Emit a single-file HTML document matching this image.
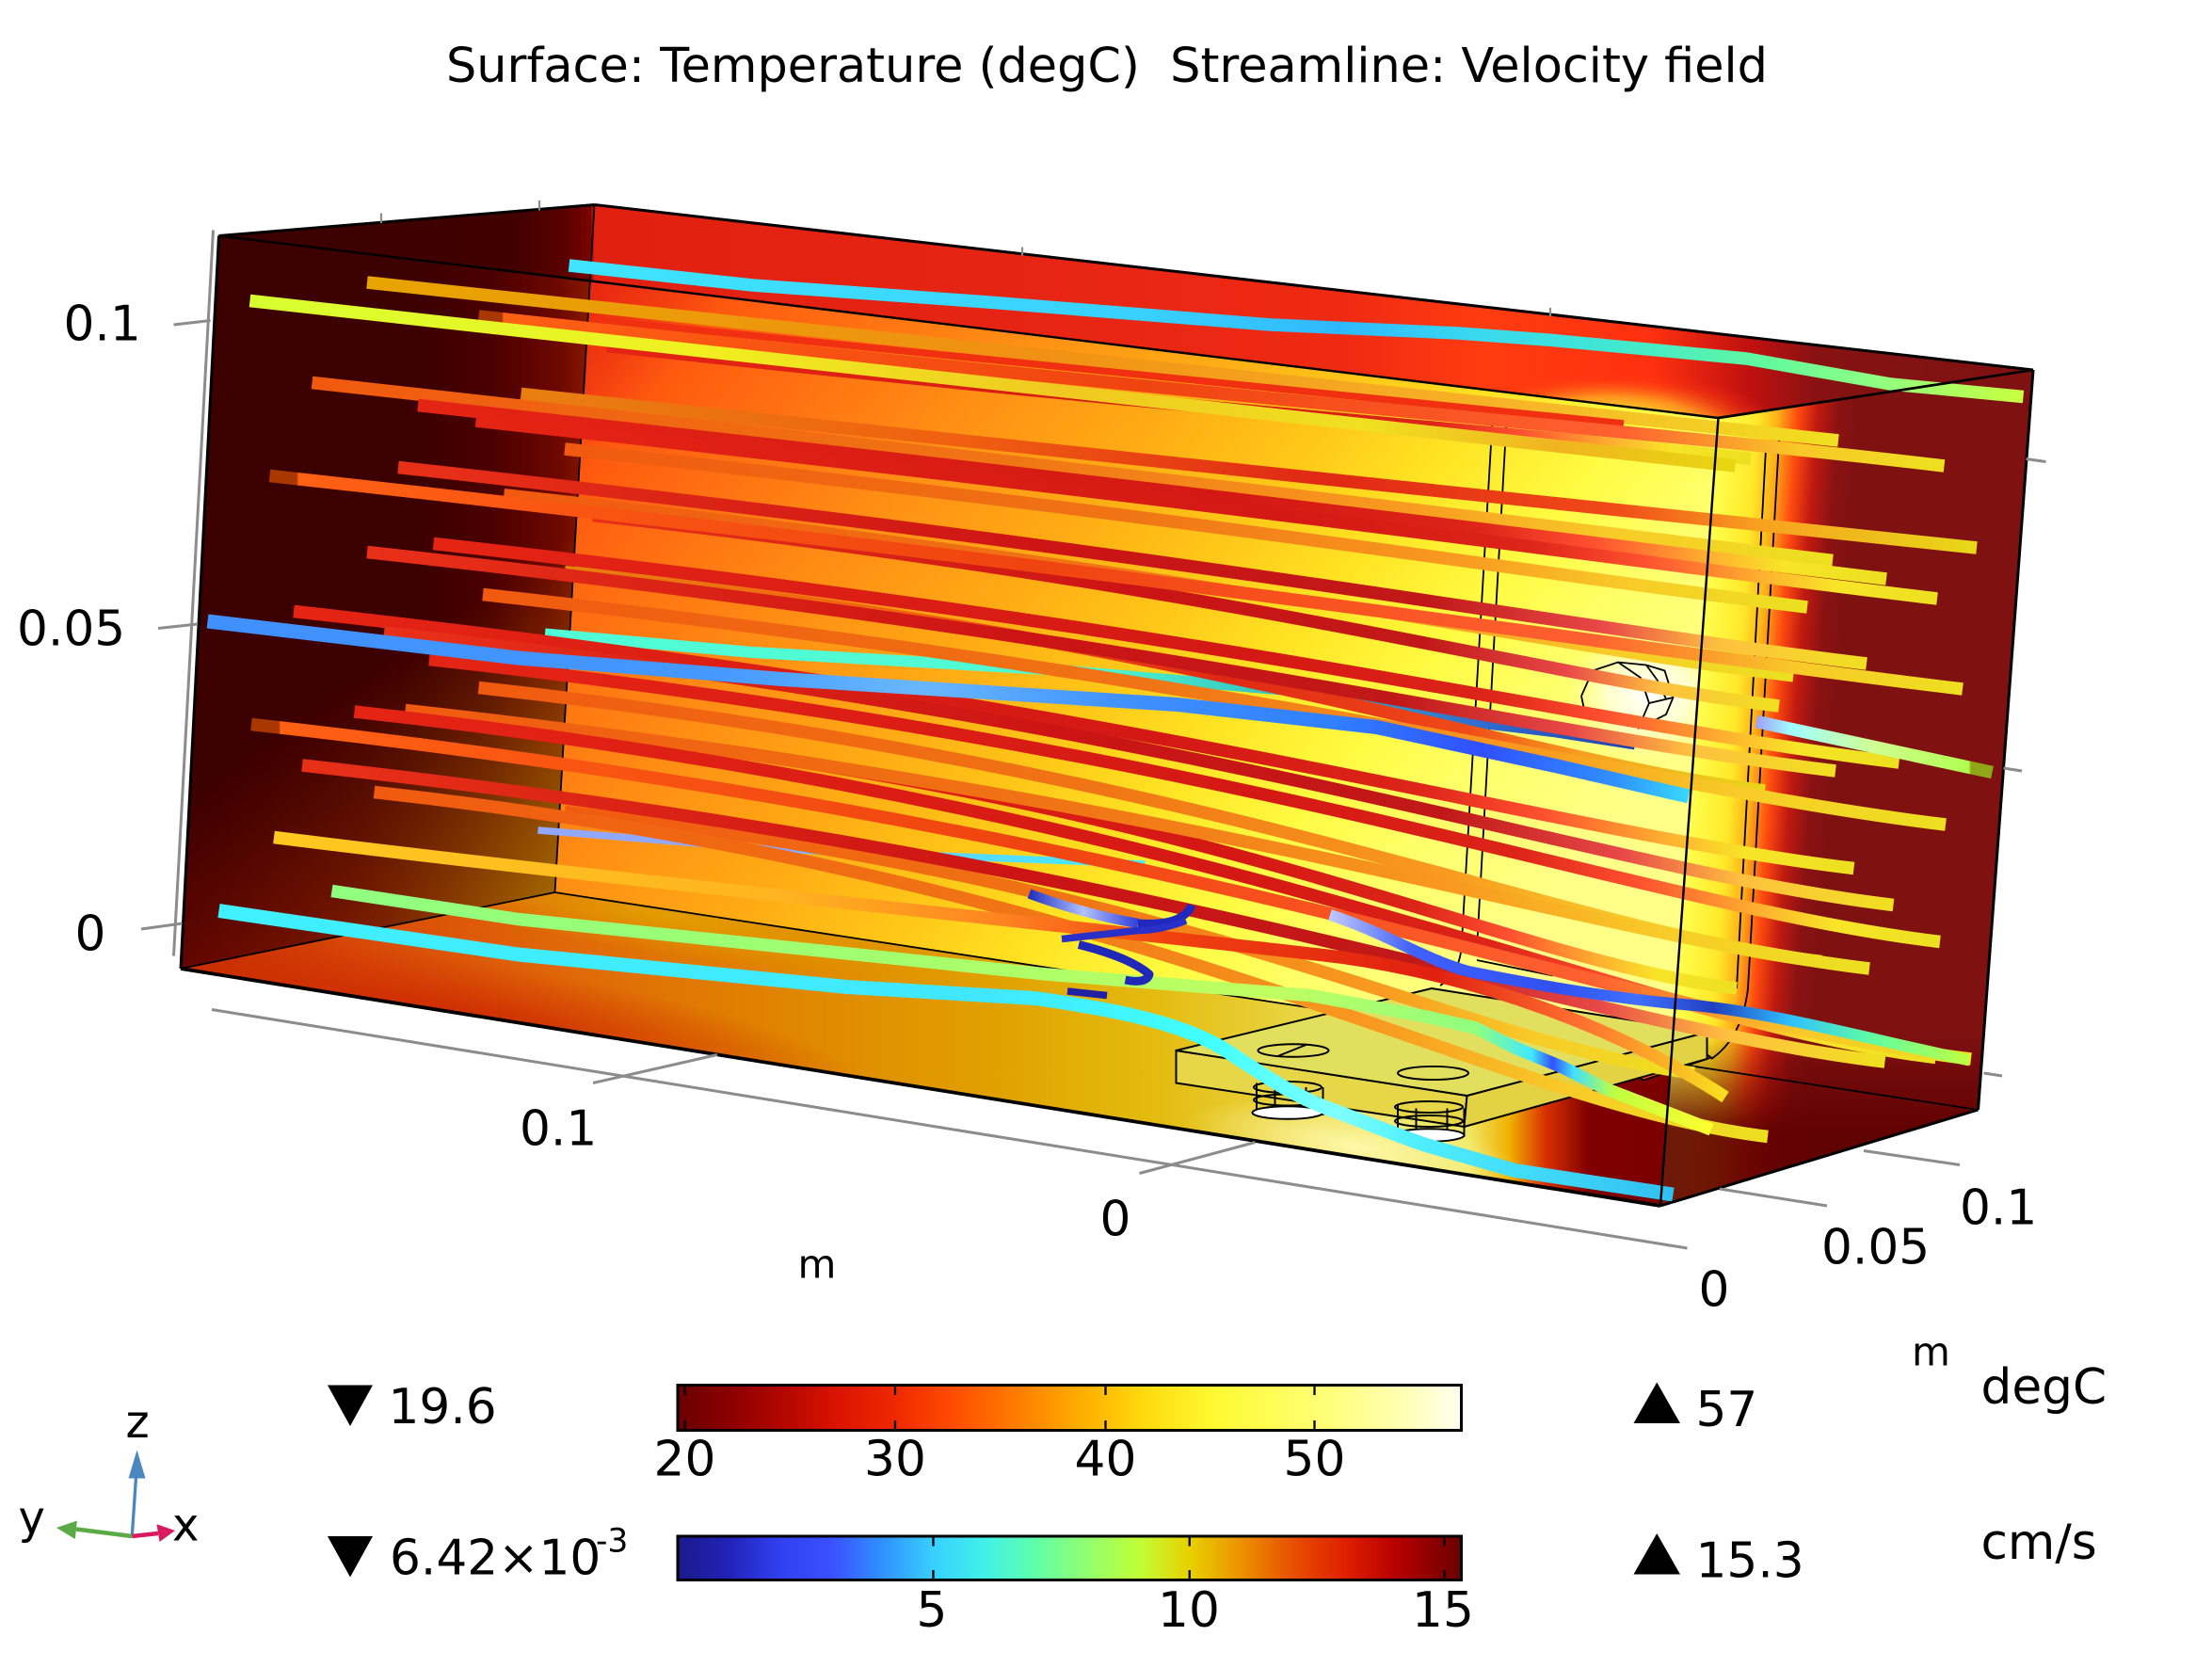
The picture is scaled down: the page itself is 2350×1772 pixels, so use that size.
<!DOCTYPE html>
<html><head><meta charset="utf-8"><style>html,body{margin:0;padding:0;background:#fff}svg{display:block}</style></head>
<body>
<svg xmlns="http://www.w3.org/2000/svg" width="2350" height="1772" viewBox="0 0 1566.667 1181.333" font-family="'DejaVu Sans','Liberation Sans',sans-serif">
<defs>
  <linearGradient id="gCeil" gradientUnits="userSpaceOnUse" x1="155" y1="0" x2="1440" y2="0">
    <stop offset="0" stop-color="#3a0000"/><stop offset="0.16" stop-color="#400000"/>
    <stop offset="0.19" stop-color="#5a0000"/><stop offset="0.205" stop-color="#7a0400"/>
    <stop offset="0.207" stop-color="#e02010"/><stop offset="0.424" stop-color="#e62414"/>
    <stop offset="0.619" stop-color="#ee2a12"/><stop offset="0.696" stop-color="#ff3c10"/>
    <stop offset="0.79" stop-color="#ff3010"/><stop offset="0.844" stop-color="#c01010"/>
    <stop offset="0.883" stop-color="#861212"/><stop offset="1" stop-color="#7f1111"/>
  </linearGradient>
  <radialGradient id="rGlow">
    <stop offset="0" stop-color="#fff850"/><stop offset="0.35" stop-color="#ffe030"/>
    <stop offset="0.6" stop-color="#ffa020" stop-opacity="0.85"/><stop offset="0.85" stop-color="#ff4010" stop-opacity="0.35"/>
    <stop offset="1" stop-color="#ff3010" stop-opacity="0"/>
  </radialGradient>
  <linearGradient id="gBack" gradientUnits="userSpaceOnUse" x1="374" y1="261.6" x2="988.4" y2="773.6">
    <stop offset="0" stop-color="#e82812"/><stop offset="0.05" stop-color="#f23c10"/>
    <stop offset="0.1" stop-color="#ff5a10"/><stop offset="0.2" stop-color="#ff7212"/>
    <stop offset="0.325" stop-color="#ff9014"/><stop offset="0.45" stop-color="#ffaa14"/>
    <stop offset="0.575" stop-color="#ffc818"/><stop offset="0.675" stop-color="#ffe424"/>
    <stop offset="0.775" stop-color="#fffa40"/><stop offset="0.875" stop-color="#ffff6a"/>
    <stop offset="1" stop-color="#ffff88"/>
  </linearGradient>
  <radialGradient id="rWhite">
    <stop offset="0" stop-color="#ffffff"/><stop offset="0.5" stop-color="#ffffe0" stop-opacity="0.8"/>
    <stop offset="1" stop-color="#ffffa0" stop-opacity="0"/>
  </radialGradient>
  <linearGradient id="gLW1" gradientUnits="userSpaceOnUse" x1="300" y1="0" x2="420" y2="0">
    <stop offset="0" stop-color="#3d0000"/><stop offset="0.4" stop-color="#4a0000"/>
    <stop offset="0.8" stop-color="#6e0800"/><stop offset="1" stop-color="#8a1a00"/>
  </linearGradient>
  <linearGradient id="gLW2" gradientUnits="userSpaceOnUse" x1="128" y1="0" x2="400" y2="0">
    <stop offset="0" stop-color="#8a0c00"/><stop offset="0.45" stop-color="#8c2400"/>
    <stop offset="0.8" stop-color="#985000"/><stop offset="1" stop-color="#a06800"/>
  </linearGradient>
  <linearGradient id="mLW" gradientUnits="userSpaceOnUse" x1="400" y1="380" x2="514" y2="544">
    <stop offset="0" stop-color="#fff" stop-opacity="0"/><stop offset="1" stop-color="#fff" stop-opacity="1"/>
  </linearGradient>
  <mask id="mkLW" maskUnits="userSpaceOnUse" x="0" y="0" width="1600" height="1200">
    <rect x="0" y="0" width="1600" height="1200" fill="url(#mLW)"/>
  </mask>
  <linearGradient id="gFloor" gradientUnits="userSpaceOnUse" x1="128" y1="0" x2="1400" y2="0">
    <stop offset="0" stop-color="#c43000"/><stop offset="0.096" stop-color="#d84808"/>
    <stop offset="0.214" stop-color="#e06808"/><stop offset="0.332" stop-color="#e08400"/>
    <stop offset="0.45" stop-color="#e0a000"/><stop offset="0.544" stop-color="#e4bc10"/>
    <stop offset="0.607" stop-color="#e8d038"/><stop offset="0.67" stop-color="#ece466"/>
    <stop offset="0.717" stop-color="#f0e864"/><stop offset="0.74" stop-color="#f0b000"/>
    <stop offset="0.76" stop-color="#d83000"/><stop offset="0.784" stop-color="#800000"/>
    <stop offset="1" stop-color="#660000"/>
  </linearGradient>
  <radialGradient id="rRed"><stop offset="0" stop-color="#cc2600" stop-opacity="0.95"/><stop offset="1" stop-color="#cc2600" stop-opacity="0"/></radialGradient>
  <radialGradient id="rOchre"><stop offset="0" stop-color="#e2a200" stop-opacity="0.9"/><stop offset="1" stop-color="#e2a200" stop-opacity="0"/></radialGradient>
  <radialGradient id="rPale"><stop offset="0" stop-color="#fff8a8" stop-opacity="1"/><stop offset="1" stop-color="#fff8a8" stop-opacity="0"/></radialGradient>
  <linearGradient id="gRW" gradientUnits="userSpaceOnUse" x1="1196.5" y1="575" x2="1296.2" y2="582.3">
    <stop offset="0" stop-color="#ffff50"/><stop offset="0.28" stop-color="#ffe828"/>
    <stop offset="0.42" stop-color="#ffb018"/><stop offset="0.56" stop-color="#ff4a10"/>
    <stop offset="0.7" stop-color="#c01a10"/><stop offset="0.85" stop-color="#8a1212"/>
    <stop offset="1" stop-color="#7f1111"/>
  </linearGradient>
  <linearGradient id="gRWb" gradientUnits="userSpaceOnUse" x1="0" y1="730" x2="0" y2="800">
    <stop offset="0" stop-color="#5e0000" stop-opacity="0"/><stop offset="1" stop-color="#5e0000" stop-opacity="0.9"/>
  </linearGradient>
  <clipPath id="cpF"><polygon points="128,686 393,632 1401,786 1176,854"/></clipPath>
  <clipPath id="cpC"><polygon points="155,167 421,145 1440,262 1217,296"/></clipPath>
  <clipPath id="cpB"><polygon points="421,145 1440,262 1401,786 393,632"/></clipPath>

  <linearGradient id="gR"><stop offset="0" stop-color="#e42414"/><stop offset="0.55" stop-color="#d41814"/><stop offset="0.72" stop-color="#dc2418"/><stop offset="0.8" stop-color="#ff5030"/><stop offset="0.88" stop-color="#ffb030"/><stop offset="0.93" stop-color="#f8e428"/><stop offset="1" stop-color="#ece020"/></linearGradient>
  <linearGradient id="gR2"><stop offset="0" stop-color="#e83018"/><stop offset="0.45" stop-color="#cc1414"/><stop offset="0.7" stop-color="#c01818"/><stop offset="0.82" stop-color="#e84848"/><stop offset="0.9" stop-color="#ffc040"/><stop offset="1" stop-color="#f0e020"/></linearGradient>
  <linearGradient id="gO"><stop offset="0" stop-color="#f05a10"/><stop offset="0.45" stop-color="#f07414"/><stop offset="0.72" stop-color="#f89a20"/><stop offset="0.86" stop-color="#f8cc28"/><stop offset="1" stop-color="#ece020"/></linearGradient>
  <linearGradient id="gOR"><stop offset="0" stop-color="#e88010"/><stop offset="0.3" stop-color="#f06010"/><stop offset="0.55" stop-color="#e02814"/><stop offset="0.75" stop-color="#f04a18"/><stop offset="0.85" stop-color="#f8a020"/><stop offset="1" stop-color="#e8d818"/></linearGradient>
  <linearGradient id="gBr"><stop offset="0" stop-color="#a83800"/><stop offset="0.016" stop-color="#a83800"/><stop offset="0.017" stop-color="#ff6014"/><stop offset="0.45" stop-color="#f04410"/><stop offset="0.78" stop-color="#ff6030"/><stop offset="0.9" stop-color="#f8c828"/><stop offset="1" stop-color="#eee020"/></linearGradient>
  <linearGradient id="gY"><stop offset="0" stop-color="#e8a400"/><stop offset="0.45" stop-color="#f09014"/><stop offset="0.78" stop-color="#f8b428"/><stop offset="1" stop-color="#f0e020"/></linearGradient>
  <linearGradient id="gYG"><stop offset="0" stop-color="#d8ff30"/><stop offset="0.3" stop-color="#f0f020"/><stop offset="0.55" stop-color="#f0c820"/><stop offset="0.75" stop-color="#f0e020"/><stop offset="0.88" stop-color="#f0b420"/><stop offset="1" stop-color="#e8d810"/></linearGradient>
  <linearGradient id="g26"><stop offset="0" stop-color="#ffc820"/><stop offset="0.35" stop-color="#ffb420"/><stop offset="0.5" stop-color="#ff8420"/><stop offset="0.62" stop-color="#f04010"/><stop offset="0.8" stop-color="#e02010"/><stop offset="0.9" stop-color="#ff7030"/><stop offset="1" stop-color="#f8e020"/></linearGradient>
  <linearGradient id="gC1"><stop offset="0" stop-color="#40e4ff"/><stop offset="0.4" stop-color="#38d0ff"/><stop offset="0.53" stop-color="#30b8ff"/><stop offset="0.62" stop-color="#38d8f0"/><stop offset="0.72" stop-color="#40e8d0"/><stop offset="0.82" stop-color="#60f8a0"/><stop offset="0.9" stop-color="#90ff80"/><stop offset="1" stop-color="#c8ff40"/></linearGradient>
  <linearGradient id="gB"><stop offset="0" stop-color="#4090ff"/><stop offset="0.34" stop-color="#4498ff"/><stop offset="0.48" stop-color="#68b8ff"/><stop offset="0.62" stop-color="#4090ff"/><stop offset="0.76" stop-color="#3080ff"/><stop offset="0.86" stop-color="#3050ff"/><stop offset="0.95" stop-color="#3090ff"/><stop offset="1" stop-color="#38d8ff"/></linearGradient>
  <linearGradient id="gT"><stop offset="0" stop-color="#50ffd8"/><stop offset="0.5" stop-color="#50f8d0"/><stop offset="0.68" stop-color="#30c0c0"/><stop offset="0.85" stop-color="#3070d0"/><stop offset="1" stop-color="#2040b0"/></linearGradient>
  <linearGradient id="gL"><stop offset="0" stop-color="#c0c8ff"/><stop offset="0.13" stop-color="#4060ff"/><stop offset="0.35" stop-color="#3050f0"/><stop offset="0.48" stop-color="#4070ff"/><stop offset="0.6" stop-color="#2040c0"/><stop offset="0.72" stop-color="#30c0ff"/><stop offset="0.85" stop-color="#60ffa0"/><stop offset="1" stop-color="#c0ff40"/></linearGradient>
  <linearGradient id="gG"><stop offset="0" stop-color="#90ff80"/><stop offset="0.37" stop-color="#a0ff70"/><stop offset="0.68" stop-color="#c0ff60"/><stop offset="0.83" stop-color="#90ff80"/><stop offset="0.87" stop-color="#40e8ff"/><stop offset="0.885" stop-color="#3050ff"/><stop offset="0.9" stop-color="#40e0ff"/><stop offset="0.93" stop-color="#c0ff40"/><stop offset="1" stop-color="#ffff30"/></linearGradient>
  <linearGradient id="gC2"><stop offset="0" stop-color="#40f0ff"/><stop offset="0.53" stop-color="#40e8ff"/><stop offset="0.68" stop-color="#40ffff"/><stop offset="0.77" stop-color="#80ffff"/><stop offset="0.82" stop-color="#50f0ff"/><stop offset="1" stop-color="#30c0f0"/></linearGradient>
  <linearGradient id="gLC"><stop offset="0" stop-color="#a0a0ff"/><stop offset="0.15" stop-color="#a0ffff"/><stop offset="0.5" stop-color="#d0ff90"/><stop offset="0.9" stop-color="#b0ff50"/><stop offset="0.91" stop-color="#90a818"/><stop offset="1" stop-color="#90a818"/></linearGradient>
  <linearGradient id="gTh"><stop offset="0" stop-color="#90a8ff"/><stop offset="0.4" stop-color="#90a8ff"/><stop offset="0.6" stop-color="#60d0ff"/><stop offset="1" stop-color="#40f0ff"/></linearGradient>
  <linearGradient id="gHx"><stop offset="0" stop-color="#2030c0"/><stop offset="0.5" stop-color="#b0c0ff"/><stop offset="1" stop-color="#3040d8"/></linearGradient>

  <linearGradient id="cbT">
    <stop offset="0" stop-color="#6a0000"/><stop offset="0.064" stop-color="#8a0000"/>
    <stop offset="0.144" stop-color="#b80800"/><stop offset="0.198" stop-color="#d81200"/>
    <stop offset="0.278" stop-color="#f02800"/><stop offset="0.358" stop-color="#ff5000"/>
    <stop offset="0.439" stop-color="#ff8000"/><stop offset="0.519" stop-color="#ffb000"/>
    <stop offset="0.6" stop-color="#ffdc10"/><stop offset="0.68" stop-color="#fff830"/>
    <stop offset="0.813" stop-color="#ffff70"/><stop offset="0.92" stop-color="#ffffb0"/>
    <stop offset="1" stop-color="#fffff0"/>
  </linearGradient>
  <linearGradient id="cbV">
    <stop offset="0" stop-color="#1a1a8a"/><stop offset="0.065" stop-color="#2222b8"/>
    <stop offset="0.13" stop-color="#3040f0"/><stop offset="0.196" stop-color="#3a50ff"/>
    <stop offset="0.26" stop-color="#3090ff"/><stop offset="0.327" stop-color="#38d0ff"/>
    <stop offset="0.39" stop-color="#40f0e8"/><stop offset="0.457" stop-color="#60ffa8"/>
    <stop offset="0.52" stop-color="#90ff70"/><stop offset="0.588" stop-color="#c0ff38"/>
    <stop offset="0.654" stop-color="#e8d000"/><stop offset="0.72" stop-color="#ec9000"/>
    <stop offset="0.784" stop-color="#e85000"/><stop offset="0.85" stop-color="#e02000"/>
    <stop offset="0.915" stop-color="#b80000"/><stop offset="1" stop-color="#6a0000"/>
  </linearGradient>
</defs>

<rect x="0" y="0" width="1566.667" height="1181.333" fill="#fff"/>

<text x="316" y="58" font-size="33.6" textLength="936" lengthAdjust="spacingAndGlyphs" fill="#000" xml:space="preserve">Surface: Temperature (degC)  Streamline: Velocity field</text>

<!-- back wall -->
<polygon points="421,145 1440,262 1401,786 393,632" fill="url(#gBack)"/>
<g clip-path="url(#cpB)"><ellipse cx="1168" cy="492" rx="60" ry="48" fill="url(#rWhite)"/></g>
<!-- left wall -->
<polygon points="155,167 421,145 393,632 128,686" fill="url(#gLW1)"/>
<polygon points="155,167 421,145 393,632 128,686" fill="url(#gLW2)" mask="url(#mkLW)"/>
<!-- floor -->
<polygon points="128,686 393,632 1401,786 1176,854" fill="url(#gFloor)"/>
<g clip-path="url(#cpF)">
  <ellipse cx="320" cy="722" rx="300" ry="45" transform="rotate(9.1 320 722)" fill="url(#rRed)"/>
  <ellipse cx="470" cy="648" rx="200" ry="28" transform="rotate(8.7 470 648)" fill="url(#rOchre)"/>
  <ellipse cx="960" cy="812" rx="120" ry="28" transform="rotate(9 960 812)" fill="url(#rPale)"/>
</g>
<!-- ceiling -->
<polygon points="155,167 421,145 1440,262 1217,296" fill="url(#gCeil)"/>
<g clip-path="url(#cpC)"><ellipse cx="1140" cy="308" rx="125" ry="46" fill="url(#rGlow)"/></g>
<!-- right wall -->
<polygon points="1217,296 1440,262 1401,786 1176,854" fill="#7f1111"/>
<polygon points="1217,296 1440,262 1401,786 1176,854" fill="url(#gRW)"/>
<polygon points="1217,296 1440,262 1401,786 1176,854" fill="url(#gRWb)"/>

<!-- inner thin outlines -->
<g fill="none" stroke="#000" stroke-width="1.2">
  <path d="M421,145 L393,632"/>
  <path d="M128,686 L393,632"/>
  <path d="M393,632 L1401,786"/>
  <path d="M1057,298 L1035,672 Q1033,690 1020,698"/>
  <path d="M1067,298 L1046,672 L1100,684"/>
  <path d="M1046,680 L1100,691"/>
  <path d="M1251,312 L1230,700"/>
  <path d="M1260,312 L1238,700 Q1234,735 1212,750"/>
  <path d="M1120,493 L1128,475 L1146,469 L1166,471 L1179,475 L1185,494 L1180,506 L1168,512 L1160,516"/>
  <path d="M1120,493 L1123,507"/>
  <path d="M1146,469 L1162,480 L1168,498 L1162,512"/>
  <path d="M1166,471 L1174,482 L1180,495"/>
  <path d="M1168,498 L1185,494"/>
</g>
<polygon points="1137,748 1186,731 1212,749 1164,765" fill="#f84a1a" stroke="#000" stroke-width="1.2"/>
<path d="M1150,752 L1198,737 M1162,758 L1205,744" stroke="#000" stroke-width="1" fill="none"/>
<!-- chip -->
<g stroke="#000" stroke-width="1.3">
  <polygon points="833,744 1039,776 1037,798 833,767" fill="#e6d648"/>
  <polygon points="1039,776 1209,731 1209,750 1037,798" fill="#e2d244"/>
  <polygon points="833,744 1014,700 1209,731 1039,776" fill="#e3df5e"/>
  <ellipse cx="916" cy="744" rx="25" ry="4.5" fill="none"/>
  <path d="M905,748 L925,740" fill="none"/>
  <ellipse cx="1015" cy="760" rx="25" ry="4.7" fill="none"/>
  <path d="M890,767 L890,788 M937,770 L937,790 M903,767 L903,792 M925,770 L925,792" fill="none"/>
  <ellipse cx="912" cy="770" rx="24" ry="4" fill="none"/>
  <ellipse cx="912" cy="779" rx="24" ry="4" fill="none"/>
  <ellipse cx="912" cy="788" rx="25" ry="4.5" fill="#fff"/>
  <path d="M990,782 L990,802 M1037,785 L1037,805 M1003,785 L1003,806 M1025,785 L1025,806" fill="none"/>
  <ellipse cx="1012" cy="784" rx="24" ry="4" fill="none"/>
  <ellipse cx="1012" cy="794" rx="24" ry="4" fill="none"/>
  <ellipse cx="1012" cy="804" rx="25" ry="4.5" fill="#fff"/>
</g>

<!-- streamlines -->
<g fill="none" stroke-linecap="butt" stroke-linejoin="round" stroke-width="9">
  <path d="M386,449 L533,462 L741,474 L928,490 L1033,510 L1100,518 L1158,527" stroke="url(#gT)" stroke-width="8"/>
  <path d="M381,588 L540,601 L811,612" stroke="url(#gTh)" stroke-width="5"/>
  <path d="M430,245 C875.5,294 1078,305.6 1240,325" stroke="url(#gR)"/>
  <path d="M400,318 C884,371.2 1104,408.9 1280,430" stroke="url(#gO)"/>
  <path d="M420,365 C882,415.8 1092,479.8 1260,500" stroke="url(#gR2)"/>
  <path d="M400,405 C867.5,456.4 1080,539.6 1250,560" stroke="url(#gOR)"/>
  <path d="M420,520 C865.5,569 1068,680.6 1230,700" stroke="url(#gR)"/>
  <path d="M400,575 C840,623.4 1040,740.8 1200,760" stroke="url(#gO)"/>
  <path d="M260,200 C833,263 1093.6,287 1302,312" stroke="url(#gY)"/>
  <path d="M417,226 L1150,300" stroke="#f03010" stroke-width="5"/>
  <path d="M339,224 C909.9,286.8 1169.4,305.1 1377,330" stroke="url(#gBr)"/>
  <path d="M177,213 C755.6,276.6 1018.6,304.8 1229,330" stroke="url(#gYG)"/>
  <path d="M369,279 C936,341.4 1193.8,363.3 1400,388" stroke="url(#gOR)"/>
  <path d="M221,271 C813.4,336.2 1082.6,371.2 1298,397" stroke="url(#gO)"/>
  <path d="M296,287 C868,349.9 1128,385 1336,410" stroke="url(#gR)"/>
  <path d="M337,298 C906.3,360.6 1165,399.2 1372,424" stroke="url(#gR)"/>
  <path d="M282,331 C854,393.9 1114,445 1322,470" stroke="url(#gR2)"/>
  <path d="M357,349 C859,404.2 1087.4,458.1 1270,480" stroke="url(#gO)" stroke-width="6"/>
  <path d="M191,337 C850.5,409.5 1150.2,459.2 1390,488" stroke="url(#gBr)"/>
  <path d="M307,385 C877.9,447.8 1137.4,515.1 1345,540" stroke="url(#gR)"/>
  <path d="M260,391 C832,453.9 1092,521 1300,546" stroke="url(#gR2)"/>
  <path d="M342,421 C911.8,483.7 1170.8,559.1 1378,584" stroke="url(#gO)"/>
  <path d="M208,433 C815.8,499.9 1092,588.5 1313,615" stroke="url(#gR)"/>
  <path d="M272,448 C860,512.7 1127.2,615.3 1341,641" stroke="url(#gR2)"/>
  <path d="M304,467 C892.5,531.7 1160,641.3 1374,667" stroke="url(#gR)"/>
  <path d="M339,487 C862,544.5 1099.8,658.2 1290,681" stroke="url(#gO)"/>
  <path d="M287,503 C857.4,565.7 1116.6,661.1 1324,686" stroke="url(#gO)"/>
  <path d="M251,504 C867,571.8 1147,722.1 1371,749" stroke="url(#gR)"/>
  <path d="M178,513 C847.9,586.7 1152.4,720.8 1396,750" stroke="url(#gBr)"/>
  <path d="M214,542 C830.6,609.8 1110.8,725.1 1335,752" stroke="url(#gR2)"/>
  <path d="M265,561 C807.9,620.7 1054.6,781.3 1252,805" stroke="url(#gO)"/>
  <path d="M194,593 C450,625 800,660 950,678 C1050,692 1150,730 1222,777" stroke="url(#g26)"/>
  <path d="M147,440 L367,466 L554,481 L694,490 L834,499 L975,515 L1100,542 L1196,564" stroke="url(#gB)" stroke-width="10"/>
  <path d="M235,631 L367,651 L741,690 L928,705 L1010,720 L1045,728 L1073,742 L1107,756 L1137,771 L1212,800" stroke="url(#gG)"/>
  <path d="M942,648 C980,660 1010,680 1040,688 C1100,700 1150,708 1200,712 C1260,718 1320,735 1395,751" stroke="url(#gL)" stroke-width="8"/>
  <path d="M729,633 Q770,648 806,654" stroke="url(#gHx)" stroke-width="7"/>
  <path d="M806,654 Q838,656 844,641" stroke="#2028c0" stroke-width="6"/>
  <path d="M840,652 Q822,659 806,659 L752,665" stroke="#2830c8" stroke-width="5"/>
  <path d="M764,669 Q800,678 814,690 Q812,697 797,694" stroke="#2028b8" stroke-width="6"/>
  <path d="M756,702 L784,705" stroke="#2020a0" stroke-width="5"/>
  <path d="M155,645 L367,676 L600,699 L733,707 C790,715 840,725 870,745 C900,765 920,778 946,787 C975,798 995,806 1010,811 L1073,829 L1185,846" stroke="url(#gC2)" stroke-width="10"/>
  <path d="M1244,511 L1411,547" stroke="url(#gLC)"/>
  <path d="M403,188 L533,202 L700,214 L900,230 L1033,236 L1100,241 L1237,254 L1339,272 L1433,281" stroke="url(#gC1)"/>
</g>

<!-- box outer edges -->
<g fill="none" stroke="#000">
  <path d="M155,167 L421,145" stroke-width="2"/>
  <path d="M421,145 L1440,262" stroke-width="2"/>
  <path d="M155,167 L128,686" stroke-width="2"/>
  <path d="M128,686 L1176,854" stroke-width="2.5"/>
  <path d="M1176,854 L1401,786" stroke-width="2"/>
  <path d="M1440,262 L1401,786" stroke-width="2"/>
  <path d="M1217,296 L1440,262" stroke-width="1.8"/>
  <path d="M155,167 L1217,296" stroke-width="1.6"/>
  <path d="M1217,296 L1176,854" stroke-width="1.6"/>
</g>

<!-- axes (gray) -->
<g fill="none" stroke="#8c8c8c" stroke-width="2">
  <path d="M151,163 L123,677"/>
  <path d="M123,230 L149,227"/>
  <path d="M112,445 L140,442"/>
  <path d="M100,658 L129,654"/>
  <path d="M270,151 L270,158 M382,142 L382,149 M724,175 L724,181 M1098,218 L1098,224" stroke-width="1.5"/>
  <path d="M1435,325 L1449,327"/>
  <path d="M1419,544 L1432,546"/>
  <path d="M1405,760 L1418,762"/>
  <path d="M150,715 L1195,884"/>
  <path d="M420,767 L508,747"/>
  <path d="M807,831 L889,809"/>
  <path d="M1218,842 L1294,854"/>
  <path d="M1320,815 L1388,825"/>
</g>

<g font-size="34.5" fill="#000">
  <text x="45" y="241">0.1</text>
  <text x="12" y="457">0.05</text>
  <text x="53" y="673">0</text>
  <text x="368" y="811">0.1</text>
  <text x="779" y="875">0</text>
  <text x="1203" y="925">0</text>
  <text x="1290" y="895">0.05</text>
  <text x="1388" y="867">0.1</text>
</g>
<text x="565" y="905" font-size="28" fill="#000">m</text>
<text x="1354" y="967" font-size="28" fill="#000">m</text>

<!-- legend: temperature -->
<polygon points="232,981 264,981 248,1010" fill="#000"/>
<text x="275" y="1008" font-size="34.5" fill="#000">19.6</text>
<rect x="480" y="981" width="555" height="32" fill="url(#cbT)" stroke="#000" stroke-width="2"/>
<path d="M485,981 v7 M485,1013 v-7 M634,981 v7 M634,1013 v-7 M783,981 v7 M783,1013 v-7 M931,981 v7 M931,1013 v-7" stroke="#000" stroke-width="1.5"/>
<g font-size="34.5" fill="#000" text-anchor="middle">
  <text x="485" y="1045">20</text>
  <text x="634" y="1045">30</text>
  <text x="783" y="1045">40</text>
  <text x="931" y="1045">50</text>
</g>
<polygon points="1157,1008 1190,1008 1173.5,979" fill="#000"/>
<text x="1201" y="1010" font-size="34.5" fill="#000">57</text>
<text x="1403" y="994" font-size="34.5" fill="#000">degC</text>

<!-- legend: velocity -->
<polygon points="232,1088 264,1088 248,1117" fill="#000"/>
<text x="276" y="1115" font-size="34.5" fill="#000">6.42×10</text>
<text x="422" y="1099" font-size="23" fill="#000">-3</text>
<rect x="480" y="1088" width="555" height="31" fill="url(#cbV)" stroke="#000" stroke-width="2"/>
<path d="M661,1088 v7 M661,1119 v-7 M842.5,1088 v7 M842.5,1119 v-7 M1023,1088 v7 M1023,1119 v-7" stroke="#000" stroke-width="1.5"/>
<g font-size="34.5" fill="#000" text-anchor="middle">
  <text x="660" y="1152">5</text>
  <text x="842" y="1152">10</text>
  <text x="1022" y="1152">15</text>
</g>
<polygon points="1157,1115 1190,1115 1173.5,1086" fill="#000"/>
<text x="1201" y="1117" font-size="34.5" fill="#000">15.3</text>
<text x="1403" y="1104" font-size="34.5" fill="#000">cm/s</text>

<!-- axis triad -->
<path d="M93.5,1088 L96.5,1044" stroke="#4a86c0" stroke-width="2.2" fill="none"/>
<polygon points="97,1027 91,1047 103,1047" fill="#4a86c0"/>
<path d="M93.5,1088 L54,1083" stroke="#5aaa46" stroke-width="3" fill="none"/>
<polygon points="40,1082 54.6,1077 53.2,1090" fill="#5aaa46"/>
<path d="M93.5,1088 L112,1086" stroke="#d81b60" stroke-width="3" fill="none"/>
<polygon points="124,1084 111,1079.5 113,1092" fill="#d81b60"/>
<g font-size="32" fill="#000">
  <text x="89" y="1018">z</text>
  <text x="13" y="1086">y</text>
  <text x="122" y="1091">x</text>
</g>
</svg>
</body></html>
